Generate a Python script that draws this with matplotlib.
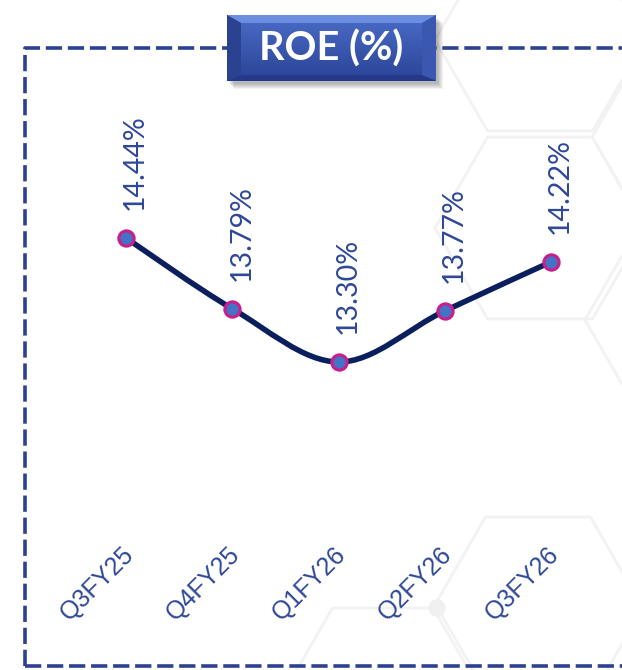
import numpy as np
import matplotlib
matplotlib.use("Agg")
import matplotlib.pyplot as plt
from matplotlib.path import Path
from matplotlib.patches import PathPatch, Polygon, Rectangle

# data
quarters = ["Q3FY25", "Q4FY25", "Q1FY26", "Q2FY26", "Q3FY26"]
roe = [14.44, 13.79, 13.30, 13.77, 14.22]
title = "ROE (%)"

W, H = 622, 670
fig = plt.figure(figsize=(W / 100, H / 100), dpi=100)

# background layer in pixel coords
bg = fig.add_axes([0, 0, 1, 1])
bg.set_xlim(0, W)
bg.set_ylim(H, 0)
bg.axis("off")

hex_col = "#f2f2f2"
s = 105
for cx, cy in [(540, 228), (540, 40), (697, 137), (538, 608), (385, 699), (690, 320)]:
    ang = np.deg2rad(np.arange(0, 360, 60))
    pts = np.c_[cx + s * np.cos(ang), cy + s * np.sin(ang)]
    bg.add_patch(Polygon(pts, closed=True, fill=False, ec=hex_col, lw=2, zorder=0))
bg.add_patch(plt.Circle((437, 608), 8, color="#f0f0f0", zorder=0))

# dashed frame
fc = "#2c4191"
bg.plot([25, 25, 640], [666, 47.5, 47.5], color=fc, lw=2.6, ls=(0, (4.5, 1.6)), zorder=1)
bg.plot([25, 640], [666, 666], color=fc, lw=2.6, ls=(0, (4.5, 1.6)), zorder=1)

# title box
x0, x1, y0, y1 = 227, 436, 15, 81
for k in range(6):
    bg.add_patch(Rectangle((x0 + 2 + k, y0 + 3 + k), x1 - x0, y1 - y0,
                           color="black", alpha=0.05, lw=0, zorder=2))
grad = np.linspace(0, 1, 100)[:, None]
c_top = np.array([0x4a, 0x6c, 0xc8]) / 255
c_bot = np.array([0x2a, 0x44, 0x96]) / 255
img = c_top[None, None, :] * (1 - grad[..., None]) + c_bot[None, None, :] * grad[..., None]
img = np.repeat(img, 2, axis=1)
bg.imshow(img, extent=(x0, x1, y1, y0), aspect="auto", zorder=3)
d = 14
bg.add_patch(Polygon([[x0, y0], [x1, y0], [x1 - d, y0 + 8], [x0 + d, y0 + 8]],
                     color="#7193e4", lw=0, alpha=0.9, zorder=4))
bg.add_patch(Polygon([[x0, y0], [x0 + d, y0 + 8], [x0 + d, y1 - 6], [x0, y1]],
                     color="#2b4290", lw=0, zorder=4))
bg.add_patch(Polygon([[x1, y0], [x1 - d, y0 + 8], [x1 - d, y1 - 6], [x1, y1]],
                     color="#3a58b0", lw=0, zorder=4))
bg.add_patch(Polygon([[x0, y1], [x0 + d, y1 - 6], [x1 - d, y1 - 6], [x1, y1]],
                     color="#24398a", lw=0, zorder=4))
bg.text((x0 + x1) / 2, (y0 + y1) / 2 + 1, title, color="white", fontsize=28.5,
        fontweight="bold", family="Lato", ha="center", va="center", zorder=5)

# data layer
ax = fig.add_axes([0, 0, 1, 1])
ax.patch.set_alpha(0)
ax.axis("off")
x = np.arange(len(roe))
ax.set_xlim(-126 / 106.25, (W - 126) / 106.25)
ax.set_ylim(13.30 - (H - 362) / 108.8, 13.30 + 362 / 108.8)

# smoothed line (catmull-rom style beziers through the points)
P = np.c_[x, roe]
Pe = np.vstack([P[0], P, P[-1]])
verts = [P[0]]
codes = [Path.MOVETO]
for i in range(len(P) - 1):
    p0, p1, p2, p3 = Pe[i], Pe[i + 1], Pe[i + 2], Pe[i + 3]
    verts += [p1 + (p2 - p0) / 6, p2 - (p3 - p1) / 6, p2]
    codes += [Path.CURVE4] * 3
ax.add_patch(PathPatch(Path(verts, codes), fill=False, ec="#0b1f5e", lw=4,
                       capstyle="round", zorder=3))
ax.plot(x, roe, ls="none", marker="o", ms=11, mfc="#4472c4", mec="#c81f8c",
        mew=2.2, zorder=4)

txt_col = "#2e4797"
for xi, v in zip(x, roe):
    ax.annotate(f"{v:.2f}%", (xi, v), xytext=(9, 28), textcoords="offset pixels",
                rotation=90, ha="center", va="bottom", fontsize=20.5, color=txt_col,
                family="Lato")

for xi, q in zip(x, quarters):
    ax.text(xi - 0.273, 1 - 584 / H, q, transform=ax.get_xaxis_transform(),
            rotation=45, ha="center", va="center", fontsize=18, color=txt_col,
            family="Liberation Sans")

fig.savefig("out.png", dpi=100)
